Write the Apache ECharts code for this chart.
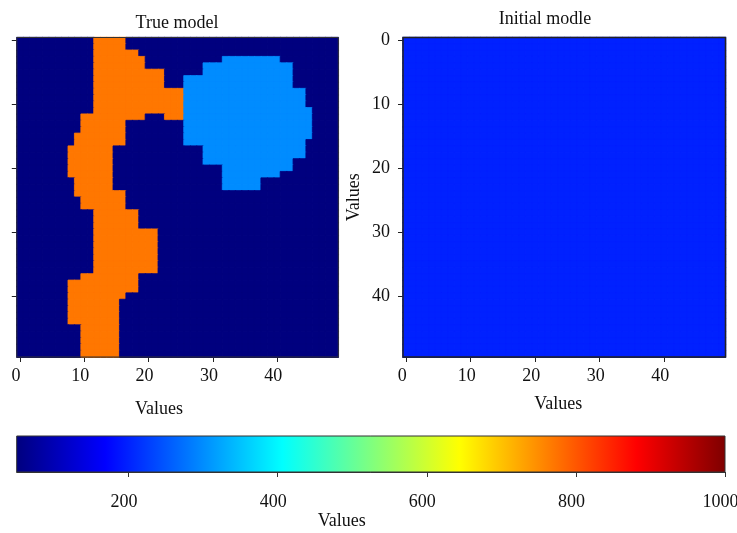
<!DOCTYPE html>
<html>
<head>
<meta charset="utf-8">
<script src="https://cdn.jsdelivr.net/npm/echarts@6/dist/echarts.min.js"></script>
<style>
html,body{margin:0;padding:0;background:#fff;}
#chart{width:737px;height:533px;}
</style>
</head>
<body>
<div id="chart"></div>
<script>
// ---- data ----
const gridSize = 50;
const axisIndices = Array.from({length: 50}, (_, i) => String(i));
const backgroundValue = 50;     // true model background
const channelValue = 770;       // orange channel
const bodyValue = 300;          // light-blue body
const initialValue = 200;       // initial model (uniform)
const colorbarTicks = [200, 400, 600, 800, 1000];
const colorbarMin = 50;
const colorbarMax = 1000;
const jetColors = ['#00007F','#0000FF','#007FFF','#00FFFF','#7FFF7F','#FFFF00','#FF7F00','#FF0000','#7F0000'];
// orange channel column runs per row (row -> [[c0,c1],...])
const channelRuns = [
  [[12,16]],[[12,16]],[[12,18]],[[12,19]],[[12,19]],
  [[12,22]],[[12,22]],[[12,22]],[[12,25]],[[12,25]],
  [[12,25]],[[12,25]],[[10,19],[23,25]],[[10,16]],[[10,16]],
  [[9,16]],[[9,16]],[[8,14]],[[8,14]],[[8,14]],
  [[8,14]],[[8,14]],[[9,14]],[[9,14]],[[9,16]],
  [[10,16]],[[10,16]],[[12,18]],[[12,18]],[[12,18]],
  [[12,21]],[[12,21]],[[12,21]],[[12,21]],[[12,21]],
  [[12,21]],[[12,21]],[[10,18]],[[8,18]],[[8,18]],
  [[8,16]],[[8,15]],[[8,15]],[[8,15]],[[8,15]],
  [[10,15]],[[10,15]],[[10,15]],[[10,15]],[[10,15]]
];
// light-blue body column runs, rows 3..23
const bodyFirstRow = 3;
const bodyRuns = [
  [32,40],[29,42],[29,42],[26,42],[26,42],
  [26,44],[26,44],[26,44],[26,45],[26,45],
  [26,45],[26,45],[26,45],[26,44],[29,44],
  [29,44],[29,42],[32,42],[32,40],[32,37],[32,37]
];

// ---- build tables ----
function inRuns(runs, c) {
  for (const r of runs) if (c >= r[0] && c <= r[1]) return true;
  return false;
}
// border colour matching the fill, to hide anti-aliasing seams between cells
function seamColor(v) {
  return echarts.color.lerp((v - colorbarMin) / (colorbarMax - colorbarMin), jetColors);
}
function cell(c, r, v) {
  return {value: [c, r, v], itemStyle: {borderColor: seamColor(v), borderWidth: 0.8}};
}
const trueData = [];
const initData = [];
for (let r = 0; r < gridSize; r++) {
  for (let c = 0; c < gridSize; c++) {
    let v = backgroundValue;
    if (inRuns(channelRuns[r], c)) v = channelValue;
    const bi = r - bodyFirstRow;
    if (bi >= 0 && bi < bodyRuns.length && inRuns([bodyRuns[bi]], c)) v = bodyValue;
    trueData.push(cell(c, r, v));
    initData.push(cell(c, r, initialValue));
  }
}
const colorbarGradient = new echarts.graphic.LinearGradient(0, 0, 1, 0,
  jetColors.map((c, i) => ({offset: i / (jetColors.length - 1), color: c})));

const FONT = 'Liberation Serif';
const txt = {fontFamily: FONT, fontSize: 18, color: '#111'};
const every10 = (i) => i % 10 === 0;

function xAxisFor(gridIndex, nameShift, nameGap) {
  return {
    type: 'category', gridIndex, data: axisIndices,
    name: 'Values', nameLocation: 'middle', nameGap,
    nameTextStyle: Object.assign({}, txt, {padding: [0, nameShift, 0, 0]}),
    axisLine: {show: true, lineStyle: {color: '#222', width: 1}},
    axisTick: {show: true, alignWithLabel: true, interval: (i) => every10(i), length: 5, lineStyle: {color: '#222'}},
    axisLabel: Object.assign({}, txt, {interval: (i) => every10(i), margin: 10, padding: [0, 8, 0, 0]}),
    splitLine: {show: false}
  };
}
function yAxisFor(gridIndex, showLabels) {
  return {
    type: 'category', gridIndex, data: axisIndices, inverse: true,
    name: showLabels ? 'Values' : '', nameLocation: 'middle', nameGap: 40, nameRotate: 90,
    nameTextStyle: txt,
    axisLine: {show: true, lineStyle: {color: '#222', width: 1}},
    axisTick: {show: true, alignWithLabel: true, interval: (i) => every10(i), length: 5, lineStyle: {color: '#222'}},
    axisLabel: Object.assign({}, txt, {show: showLabels, interval: (i) => every10(i), margin: 13}),
    splitLine: {show: false}
  };
}

const chart = echarts.init(document.getElementById('chart'), null, {renderer: 'canvas'});
chart.setOption({
  backgroundColor: '#fff',
  animation: false,
  title: [
    {text: 'True model', left: 172, top: 9, textAlign: 'center', textStyle: Object.assign({}, txt, {fontWeight: 'normal'})},
    {text: 'Initial modle', left: 540, top: 5, textAlign: 'center', textStyle: Object.assign({}, txt, {fontWeight: 'normal'})}
  ],
  grid: [
    {left: 16.8, top: 37.5, width: 321.5, height: 319.5, outerBoundsMode: 'none', show: true, borderColor: '#333', borderWidth: 1, backgroundColor: 'transparent', z: 5},
    {left: 403, top: 37.5, width: 322.5, height: 319.5, outerBoundsMode: 'none', show: true, borderColor: '#222', borderWidth: 1.5, backgroundColor: 'transparent', z: 5},
    {left: 16.7, top: 436, width: 708.3, height: 36, outerBoundsMode: 'none', show: true, borderColor: '#333', borderWidth: 1, backgroundColor: 'transparent', z: 10}
  ],
  xAxis: [
    xAxisFor(0, 37, 43),
    xAxisFor(1, 12, 38),
    {
      type: 'value', gridIndex: 2, min: colorbarMin, max: colorbarMax,
      name: 'Values', nameLocation: 'middle', nameGap: 40,
      nameTextStyle: Object.assign({}, txt, {padding: [0, 58, 0, 0]}),
      axisLine: {show: true, lineStyle: {color: '#333'}},
      axisTick: {show: true, customValues: colorbarTicks, length: 5, lineStyle: {color: '#333'}},
      axisLabel: Object.assign({}, txt, {customValues: colorbarTicks, margin: 21, padding: [0, 9, 0, 0], formatter: (v) => String(v)}),
      splitLine: {show: false}
    }
  ],
  yAxis: [
    yAxisFor(0, false),
    yAxisFor(1, true),
    {type: 'category', gridIndex: 2, show: false, data: ['colorbar']}
  ],
  visualMap: {
    type: 'continuous', show: false, min: colorbarMin, max: colorbarMax, seriesIndex: [0, 1],
    inRange: {color: jetColors}
  },
  series: [
    {type: 'heatmap', xAxisIndex: 0, yAxisIndex: 0, data: trueData, emphasis: {disabled: true}},
    {type: 'heatmap', xAxisIndex: 1, yAxisIndex: 1, data: initData, emphasis: {disabled: true}},
    {type: 'bar', xAxisIndex: 2, yAxisIndex: 2, data: [colorbarMax], barWidth: '100%', silent: true,
     clip: true, itemStyle: {color: colorbarGradient}}
  ]
});
</script>
</body>
</html>
